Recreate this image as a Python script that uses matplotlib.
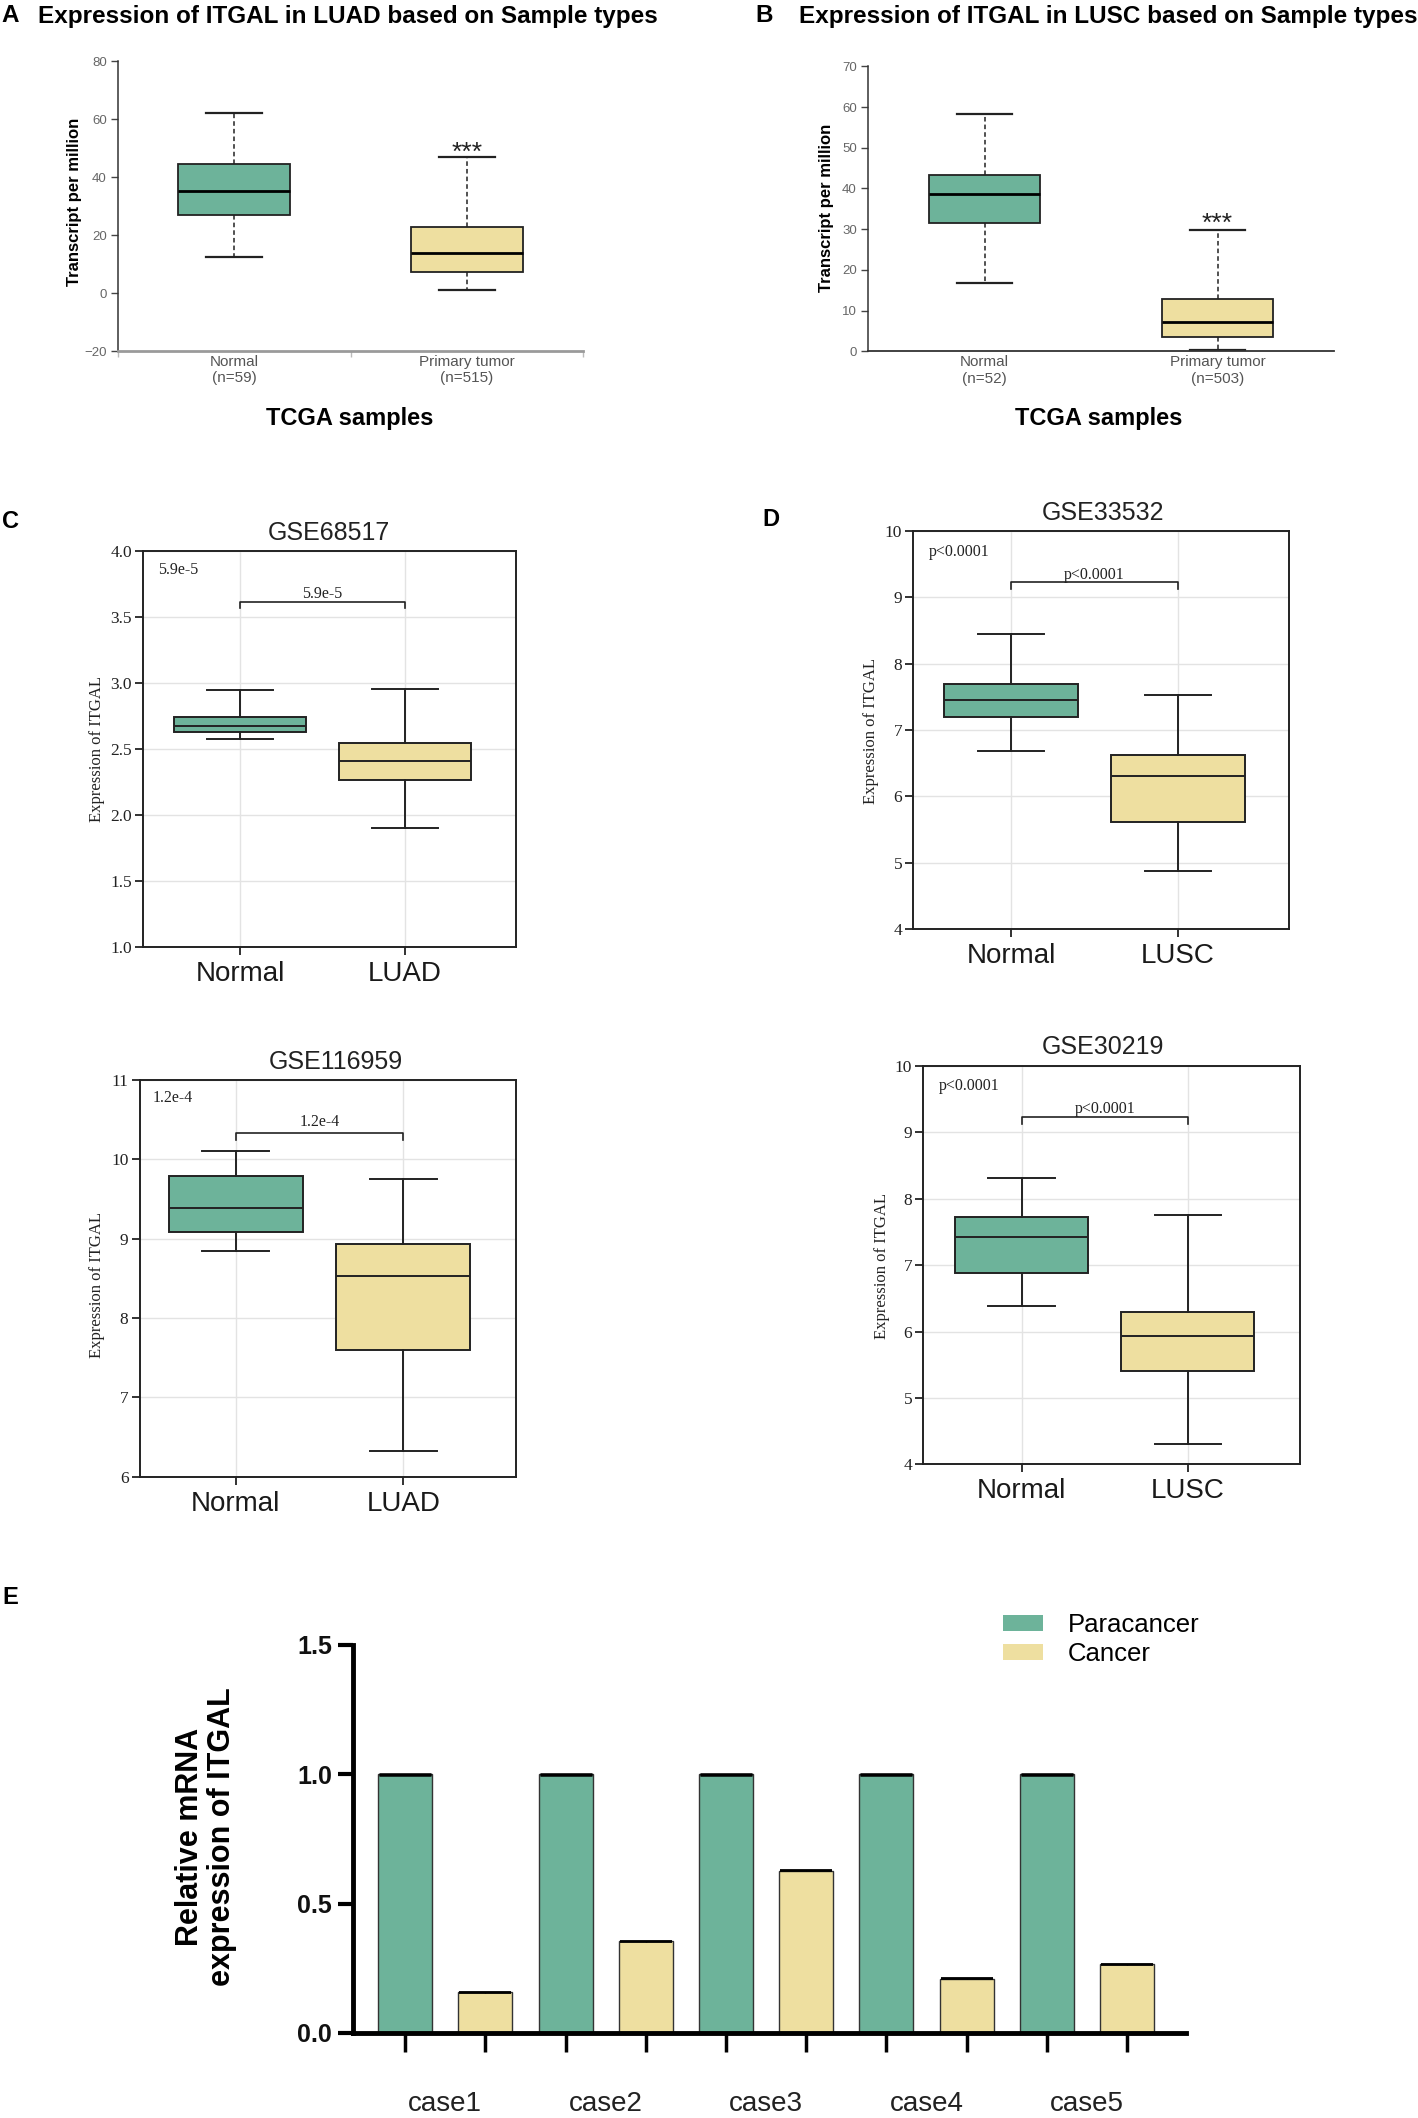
import matplotlib
matplotlib.use('Agg')
import matplotlib.pyplot as plt
import matplotlib.patches as mpatches
from matplotlib.transforms import blended_transform_factory
import numpy as np

W, H = 1418, 2118
DPI = 100
GREEN = '#6DB39A'
YELLOW = '#EEDFA0'
EDGE = '#222222'
SANS = 'Liberation Sans'
SERIF = 'Liberation Serif'

# ---------------- data ----------------
# Panel A (TCGA LUAD)
a_labels = ['Normal\n(n=59)', 'Primary tumor\n(n=515)']
a_whislo = [12.5, 1.0]
a_q1 = [26.8, 7.2]
a_med = [35.3, 13.7]
a_q3 = [44.5, 22.6]
a_whishi = [62.2, 46.8]
a_yticks = [-20, 0, 20, 40, 60, 80]
a_star_y = 48.3

# Panel B (TCGA LUSC)
b_labels = ['Normal\n(n=52)', 'Primary tumor\n(n=503)']
b_whislo = [16.7, 0.3]
b_q1 = [31.5, 3.6]
b_med = [38.7, 7.1]
b_q3 = [43.3, 12.8]
b_whishi = [58.2, 29.8]
b_yticks = [0, 10, 20, 30, 40, 50, 60, 70]
b_star_y = 31.2

# Panel C top (GSE68517)
c1_cats = ['Normal', 'LUAD']
c1_whislo = [2.572, 1.90]
c1_q1 = [2.632, 2.266]
c1_med = [2.673, 2.41]
c1_q3 = [2.746, 2.544]
c1_whishi = [2.948, 2.958]
c1_yticks = [1.0, 1.5, 2.0, 2.5, 3.0, 3.5, 4.0]
c1_p = '5.9e-5'
c1_bracket = [3.57, 3.616]
c1_ptext_y = 3.675

# Panel C bottom (GSE116959)
c2_cats = ['Normal', 'LUAD']
c2_whislo = [8.85, 6.32]
c2_q1 = [9.09, 7.60]
c2_med = [9.39, 8.53]
c2_q3 = [9.79, 8.93]
c2_whishi = [10.11, 9.75]
c2_yticks = [6, 7, 8, 9, 10, 11]
c2_p = '1.2e-4'
c2_bracket = [10.24, 10.33]
c2_ptext_y = 10.47

# Panel D top (GSE33532)
d1_cats = ['Normal', 'LUSC']
d1_whislo = [6.69, 4.88]
d1_q1 = [7.20, 5.61]
d1_med = [7.45, 6.30]
d1_q3 = [7.70, 6.62]
d1_whishi = [8.44, 7.53]
d1_yticks = [4, 5, 6, 7, 8, 9, 10]
d1_p = 'p<0.0001'
d1_bracket = [9.13, 9.23]
d1_ptext_y = 9.34

# Panel D bottom (GSE30219)
d2_cats = ['Normal', 'LUSC']
d2_whislo = [6.39, 4.31]
d2_q1 = [6.88, 5.40]
d2_med = [7.43, 5.93]
d2_q3 = [7.73, 6.30]
d2_whishi = [8.31, 7.75]
d2_yticks = [4, 5, 6, 7, 8, 9, 10]
d2_p = 'p<0.0001'
d2_bracket = [9.13, 9.23]
d2_ptext_y = 9.35

# Panel E (qPCR)
e_cases = ['case1', 'case2', 'case3', 'case4', 'case5']
e_para = [1.0, 1.0, 1.0, 1.0, 1.0]
e_cancer = [0.158, 0.354, 0.628, 0.209, 0.266]
e_para_err = [0.003, 0.003, 0.003, 0.003, 0.003]
e_cancer_err = [0.002, 0.002, 0.002, 0.002, 0.002]
e_yticks = [0.0, 0.5, 1.0, 1.5]

# ---------------- helpers ----------------
fig = plt.figure(figsize=(W / DPI, H / DPI), dpi=DPI)


def add_ax(l, t, r, b):
    return fig.add_axes([l / W, 1 - b / H, (r - l) / W, (b - t) / H])


def ftext(x, y, s, **kw):
    return fig.text(x / W, 1 - y / H, s, **kw)


def make_stats(lo, q1, med, q3, hi):
    return [dict(whislo=a, q1=b, med=c, q3=d, whishi=e, fliers=[])
            for a, b, c, d, e in zip(lo, q1, med, q3, hi)]


def tcga_panel(rect, labels, lo, q1, med, q3, hi, ylim, yticks, star_y,
               grey_bottom):
    ax = add_ax(*rect)
    bp = ax.bxp(make_stats(lo, q1, med, q3, hi), positions=[0, 1],
                widths=0.48, capwidths=0.24, patch_artist=True,
                showfliers=False,
                boxprops=dict(edgecolor=EDGE, linewidth=1.3),
                whiskerprops=dict(color=EDGE, linewidth=1.1,
                                  linestyle=(0, (3, 2))),
                capprops=dict(color=EDGE, linewidth=1.6),
                medianprops=dict(color='black', linewidth=2.0))
    for p, c in zip(bp['boxes'], [GREEN, YELLOW]):
        p.set_facecolor(c)
    ax.set_xlim(-0.5, 1.5)
    ax.set_ylim(*ylim)
    ax.set_yticks(yticks)
    ax.set_xticks([0, 1])
    ax.set_xticklabels(labels, fontsize=11, color='#555555', family=SANS)
    ax.tick_params(axis='x', length=0, pad=3)
    ax.tick_params(axis='y', length=5, width=1, color='#444444',
                   labelsize=9.5, labelcolor='#666666', pad=3)
    for lbl in ax.get_yticklabels():
        lbl.set_fontfamily(SANS)
    ax.spines['top'].set_visible(False)
    ax.spines['right'].set_visible(False)
    ax.spines['left'].set_color('#333333')
    ax.spines['left'].set_linewidth(1.1)
    if grey_bottom:
        ax.spines['bottom'].set_color('#9a9a9a')
        ax.spines['bottom'].set_linewidth(2.0)
        ax.set_xticks([-0.5, 0.5, 1.5], minor=True)
        ax.tick_params(axis='x', which='minor', length=4, width=1,
                       color='#bbbbbb')
    else:
        ax.spines['bottom'].set_color('#333333')
        ax.spines['bottom'].set_linewidth(1.3)
    ax.text(1, star_y, '***', ha='center', va='center', fontsize=19,
            color='#222222', family=SANS)
    return ax


def geo_panel(rect, xlim, ylim, yticks, fmt, cats, lo, q1, med, q3, hi,
              ptxt, bracket, ptext_y, pcorner_xy):
    ax = add_ax(*rect)
    ax.set_axisbelow(True)
    ax.grid(True, color='#e3e3e3', linewidth=1.0)
    bp = ax.bxp(make_stats(lo, q1, med, q3, hi), positions=[0, 1],
                widths=0.8, capwidths=0.4, patch_artist=True,
                showfliers=False,
                boxprops=dict(edgecolor=EDGE, linewidth=1.4),
                whiskerprops=dict(color=EDGE, linewidth=1.4),
                capprops=dict(color=EDGE, linewidth=1.4),
                medianprops=dict(color=EDGE, linewidth=1.4))
    for p, c in zip(bp['boxes'], [GREEN, YELLOW]):
        p.set_facecolor(c)
    ax.set_xlim(*xlim)
    ax.set_ylim(*ylim)
    ax.set_yticks(yticks)
    ax.set_yticklabels([fmt.format(v) for v in yticks], family=SERIF,
                       fontsize=12.5, color='#222222')
    ax.set_xticks([0, 1])
    ax.set_xticklabels(cats, fontsize=20, family=SANS, color='#1a1a1a')
    ax.tick_params(axis='x', length=6, width=1.3, color=EDGE, pad=4)
    ax.tick_params(axis='y', length=6, width=1.3, color=EDGE, pad=2)
    for s in ax.spines.values():
        s.set_color(EDGE)
        s.set_linewidth(1.4)
    # significance bracket
    ax.plot([0, 0, 1, 1], [bracket[0], bracket[1], bracket[1], bracket[0]],
            color=EDGE, linewidth=1.2)
    ax.text(0.5, ptext_y, ptxt, ha='center', va='center', fontsize=11.5,
            family=SERIF, color='#222222')
    ax.text(pcorner_xy[0], pcorner_xy[1], ptxt, ha='left', va='center',
            fontsize=11.5, family=SERIF, color='#222222',
            transform=ax.transAxes)
    return ax


# ---------------- Panel A & B ----------------
ftext(1, 16, 'A', ha='left', va='center', fontsize=17.5, fontweight='bold',
      family=SANS)
ftext(38, 16, 'Expression of ITGAL in LUAD based on Sample types',
      ha='left', va='center', fontsize=17.5, fontweight='bold', family=SANS)
ftext(755, 16, 'B', ha='left', va='center', fontsize=17.5, fontweight='bold',
      family=SANS)
ftext(799, 16, 'Expression of ITGAL in LUSC based on Sample types',
      ha='left', va='center', fontsize=17.5, fontweight='bold', family=SANS)

tcga_panel((118, 61, 583, 351), a_labels, a_whislo, a_q1, a_med, a_q3,
           a_whishi, (-20, 80), a_yticks, a_star_y, True)
tcga_panel((868, 66.3, 1334, 351.3), b_labels, b_whislo, b_q1, b_med, b_q3,
           b_whishi, (0, 70), b_yticks, b_star_y, False)

ftext(75, 202, 'Transcript per million', rotation=90, ha='center',
      va='center', fontsize=12, fontweight='bold', family=SANS)
ftext(827, 208, 'Transcript per million', rotation=90, ha='center',
      va='center', fontsize=12, fontweight='bold', family=SANS)
ftext(350, 418, 'TCGA samples', ha='center', va='center', fontsize=17,
      fontweight='bold', family=SANS)
ftext(1099, 418, 'TCGA samples', ha='center', va='center', fontsize=17,
      fontweight='bold', family=SANS)

# ---------------- Panel C & D ----------------
ftext(2, 522, 'C', ha='left', va='center', fontsize=17, fontweight='bold',
      family=SANS)
ftext(762, 520, 'D', ha='left', va='center', fontsize=17, fontweight='bold',
      family=SANS)

geo_panel((143, 551, 515.5, 947), (-0.588, 1.67), (1.0, 4.0), c1_yticks,
          '{:.1f}', c1_cats, c1_whislo, c1_q1, c1_med, c1_q3, c1_whishi,
          c1_p, c1_bracket, c1_ptext_y, (0.04, 0.952))
ftext(329, 533, 'GSE68517', ha='center', va='center', fontsize=18,
      family=SANS, color='#222222')
ftext(97, 749, 'Expression of ITGAL', rotation=90, ha='center', va='center',
      fontsize=12, family=SERIF, color='#222222')

geo_panel((139.5, 1080, 515.5, 1476.7), (-0.576, 1.67), (6, 11), c2_yticks,
          '{:d}', c2_cats, c2_whislo, c2_q1, c2_med, c2_q3, c2_whishi,
          c2_p, c2_bracket, c2_ptext_y, (0.036, 0.955))
ftext(336, 1062, 'GSE116959', ha='center', va='center', fontsize=18,
      family=SANS, color='#222222')
ftext(97, 1285, 'Expression of ITGAL', rotation=90, ha='center', va='center',
      fontsize=12, family=SERIF, color='#222222')

geo_panel((913.4, 531, 1289.4, 929), (-0.585, 1.668), (4, 10), d1_yticks,
          '{:d}', d1_cats, d1_whislo, d1_q1, d1_med, d1_q3, d1_whishi,
          d1_p, d1_bracket, d1_ptext_y, (0.04, 0.947))
ftext(1103, 513, 'GSE33532', ha='center', va='center', fontsize=18,
      family=SANS, color='#222222')
ftext(871, 731, 'Expression of ITGAL', rotation=90, ha='center', va='center',
      fontsize=12, family=SERIF, color='#222222')

geo_panel((923.2, 1066, 1300, 1464.3), (-0.593, 1.676), (4, 10), d2_yticks,
          '{:d}', d2_cats, d2_whislo, d2_q1, d2_med, d2_q3, d2_whishi,
          d2_p, d2_bracket, d2_ptext_y, (0.041, 0.95))
ftext(1103, 1047, 'GSE30219', ha='center', va='center', fontsize=18,
      family=SANS, color='#222222')
ftext(882, 1266, 'Expression of ITGAL', rotation=90, ha='center', va='center',
      fontsize=12, family=SERIF, color='#222222')

# ---------------- Panel E ----------------
ftext(2, 1598, 'E', ha='left', va='center', fontsize=17, fontweight='bold',
      family=SANS)
ax = add_ax(352.7, 1645, 1186, 2033)
x = np.arange(len(e_cases))
bw = 0.337
ax.bar(x - 0.25, e_para, width=bw, color=GREEN, edgecolor='#333333',
       linewidth=1.0, zorder=2)
ax.bar(x + 0.25, e_cancer, width=bw, color=YELLOW, edgecolor='#333333',
       linewidth=1.0, zorder=2)
ax.errorbar(x - 0.25, e_para, yerr=e_para_err, fmt='none', ecolor='black',
            elinewidth=1.2, capsize=19, capthick=1.8, zorder=3)
ax.errorbar(x + 0.25, e_cancer, yerr=e_cancer_err, fmt='none',
            ecolor='black', elinewidth=1.0, capsize=19, capthick=1.3,
            zorder=3)
ax.set_xlim(-0.577, 4.618)
ax.set_ylim(0, 1.5)
ax.set_yticks(e_yticks)
ax.set_yticklabels(['{:.1f}'.format(v) for v in e_yticks], fontsize=18,
                   fontweight='bold', family=SANS, color='#111111')
ax.set_xticks(np.sort(np.concatenate([x - 0.25, x + 0.25])))
ax.set_xticklabels([])
ax.tick_params(axis='y', length=11, width=3, pad=4, color='black')
ax.tick_params(axis='x', length=14, width=2.5, pad=0, color='black')
for s in ['top', 'right']:
    ax.spines[s].set_visible(False)
for s in ['left', 'bottom']:
    ax.spines[s].set_linewidth(3.5)
    ax.spines[s].set_color('black')
trans = blended_transform_factory(ax.transData, fig.transFigure)
for i, c in enumerate(e_cases):
    ax.text(x[i], 1 - 2104 / H, c, transform=trans, ha='center',
            va='center', fontsize=20, family=SANS, color='#222222',
            clip_on=False)
ftext(206, 1837, 'Relative mRNA\nexpression of ITGAL', rotation=90,
      ha='center', va='center', fontsize=22, fontweight='bold', family=SANS,
      linespacing=1.05, multialignment='center')
handles = [mpatches.Patch(facecolor=GREEN, edgecolor='none'),
           mpatches.Patch(facecolor=YELLOW, edgecolor='none')]
ax.legend(handles, ['Paracancer', 'Cancer'], loc='upper left',
          bbox_to_anchor=(1003 / W, 1 - 1613 / H),
          bbox_transform=fig.transFigure, frameon=False,
          prop=dict(family=SANS, size=18.5), handlelength=1.56,
          handleheight=0.55, handletextpad=0.95, labelspacing=0.2,
          borderpad=0, borderaxespad=0)

fig.savefig('out.png', dpi=DPI)
